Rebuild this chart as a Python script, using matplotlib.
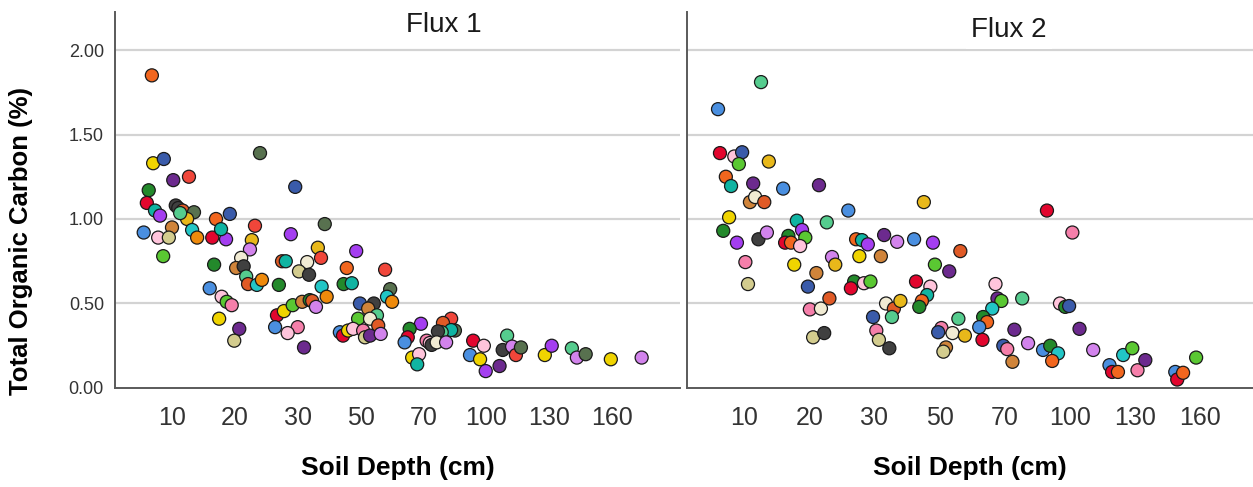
import numpy as np
import matplotlib
matplotlib.use("Agg")
import matplotlib.pyplot as plt

plt.rcParams['font.family'] = ['Liberation Sans', 'DejaVu Sans']

# palette used for the individual sample points
palette = {
    'lblue': '#4A8FE0', 'dkblue': '#3A5BAA', 'crimson': '#E2062E',
    'orange': '#F2661E', 'amber': '#EE8A0C', 'yellow': '#F0D400',
    'gold': '#E8B81A', 'dkgreen': '#23892B', 'lgreen': '#5AC832',
    'teal': '#10B4A2', 'turq': '#22C6C6', 'purple': '#A43EF0',
    'dkpurple': '#6C2A8E', 'pink': '#F57FAA', 'lpink': '#FFC4DB',
    'khaki': '#D3CC8E', 'cream': '#F1EBD3', 'tan': '#D0843A',
    'dkgray': '#404040', 'olive': '#58714F', 'mint': '#55CC8E',
    'orchid': '#D283EC', 'tomato': '#F0463A', 'rust': '#E05A26',
}

# ---- Flux 1 ----
depth1 = [6.8, 7.0, 8.7, 10.2, 12.7, 6.3, 6.0, 7.3, 8.1, 10.6, 11.0, 11.7,
          13.5, 12.4, 11.3, 19.2, 17.0, 10.0, 5.5, 7.8, 9.5, 13.2, 14.0, 16.4,
          18.6, 17.8, 23.2, 24.0, 29.6, 28.9, 38.6, 8.6, 22.7, 22.4, 16.7,
          21.0, 20.2, 21.4, 21.8, 22.1, 23.5, 24.3, 16.0, 17.9, 18.7, 19.5,
          17.5, 20.7, 19.9, 27.0, 27.5, 28.1, 36.4, 37.4, 33.0, 30.4, 33.6,
          37.6, 39.2, 48.6, 45.6, 57.8, 44.6, 47.2, 59.4, 58.4, 60.0, 26.7,
          27.8, 29.2, 31.4, 33.8, 34.6, 35.8, 26.4, 30.0, 28.4, 32.0, 49.8,
          54.2, 52.4, 55.2, 49.2, 53.0, 55.6, 43.4, 44.4, 46.0, 47.6, 50.8,
          51.4, 53.0, 56.4, 69.2, 65.6, 65.0, 64.0, 66.4, 68.6, 68.0, 83.2,
          79.3, 85.0, 83.2, 78.7, 76.9, 71.5, 73.0, 73.9, 76.3, 80.8, 93.7,
          98.8, 92.2, 97.0, 99.7, 106.3, 109.9, 107.8, 112.3, 114.1, 116.5,
          127.9, 131.2, 140.8, 143.2, 147.4, 159.4, 174.1]
toc1 = [1.85, 1.33, 1.355, 1.23, 1.25, 1.17, 1.095, 1.05, 1.02, 1.08, 1.065,
        1.05, 1.04, 1.00, 1.035, 1.03, 1.00, 0.95, 0.92, 0.89, 0.89, 0.935,
        0.89, 0.89, 0.88, 0.94, 0.96, 1.39, 1.19, 0.91, 0.97, 0.78, 0.875,
        0.82, 0.73, 0.77, 0.71, 0.72, 0.66, 0.615, 0.61, 0.64, 0.59, 0.54,
        0.51, 0.49, 0.41, 0.35, 0.28, 0.61, 0.75, 0.75, 0.83, 0.77, 0.745,
        0.69, 0.67, 0.60, 0.54, 0.81, 0.71, 0.70, 0.615, 0.62, 0.585, 0.54,
        0.51, 0.43, 0.455, 0.49, 0.51, 0.52, 0.515, 0.48, 0.36, 0.36, 0.325,
        0.24, 0.50, 0.50, 0.47, 0.43, 0.41, 0.41, 0.37, 0.33, 0.31, 0.34,
        0.35, 0.34, 0.30, 0.31, 0.32, 0.38, 0.35, 0.30, 0.27, 0.18, 0.20,
        0.14, 0.41, 0.385, 0.34, 0.343, 0.33, 0.335, 0.28, 0.266, 0.255,
        0.27, 0.27, 0.28, 0.25, 0.195, 0.17, 0.10, 0.13, 0.31, 0.225, 0.245,
        0.195, 0.24, 0.195, 0.25, 0.235, 0.18, 0.20, 0.17, 0.18]
col1 = ['orange', 'yellow', 'dkblue', 'dkpurple', 'tomato', 'dkgreen',
        'crimson', 'teal', 'purple', 'dkgray', 'dkgray', 'rust', 'olive',
        'gold', 'mint', 'dkblue', 'orange', 'tan', 'lblue', 'lpink', 'khaki',
        'turq', 'amber', 'crimson', 'purple', 'teal', 'tomato', 'olive',
        'dkblue', 'purple', 'olive', 'lgreen', 'gold', 'orchid', 'dkgreen',
        'cream', 'tan', 'dkgray', 'mint', 'rust', 'turq', 'amber', 'lblue',
        'lpink', 'lgreen', 'pink', 'yellow', 'dkpurple', 'khaki', 'dkgreen',
        'rust', 'teal', 'gold', 'tomato', 'cream', 'khaki', 'dkgray', 'turq',
        'amber', 'purple', 'orange', 'tomato', 'dkgreen', 'teal', 'olive',
        'turq', 'amber', 'crimson', 'yellow', 'lgreen', 'tan', 'dkgreen',
        'rust', 'orchid', 'lblue', 'pink', 'lpink', 'dkpurple', 'dkblue',
        'dkgray', 'tan', 'mint', 'lgreen', 'cream', 'rust', 'lblue',
        'crimson', 'yellow', 'lpink', 'pink', 'khaki', 'dkpurple', 'orchid',
        'purple', 'dkgreen', 'crimson', 'lblue', 'yellow', 'lpink', 'teal',
        'tomato', 'rust', 'olive', 'teal', 'mint', 'dkgray', 'pink', 'lpink',
        'dkgray', 'cream', 'orchid', 'crimson', 'lpink', 'lblue', 'yellow',
        'purple', 'dkpurple', 'mint', 'dkgray', 'orchid', 'tomato', 'olive',
        'yellow', 'purple', 'mint', 'orchid', 'olive', 'yellow', 'orchid']

# ---- Flux 2 ----
depth2 = [12.6, 6.0, 6.3, 8.5, 9.7, 9.2, 13.8, 7.2, 8.0, 11.4, 16.0, 21.5,
          10.9, 11.7, 13.1, 26.0, 45.2, 7.7, 6.8, 8.9, 12.2, 13.5, 18.1, 18.9,
          19.4, 16.8, 16.3, 17.2, 18.6, 22.7, 10.2, 10.6, 17.7, 23.5, 24.0,
          21.1, 19.8, 23.1, 20.1, 21.8, 20.6, 22.3, 27.2, 28.1, 29.0, 33.0,
          37.0, 42.2, 48.0, 56.4, 27.7, 32.0, 48.6, 53.0, 26.9, 26.4, 28.4,
          29.4, 42.8, 47.2, 46.2, 44.6, 43.8, 33.6, 36.0, 38.0, 35.4, 29.8,
          30.6, 31.4, 34.6, 55.8, 50.6, 49.6, 54.0, 57.8, 52.0, 51.2, 89.5,
          101.2, 67.2, 67.8, 69.0, 78.1, 66.2, 63.4, 64.6, 62.2, 63.2, 74.5,
          69.6, 71.2, 80.8, 73.6, 95.5, 97.9, 99.7, 104.5, 87.7, 91.0, 94.6,
          91.9, 110.8, 118.3, 119.5, 122.2, 124.6, 128.8, 131.2, 134.8, 148.6,
          149.5, 152.2, 158.2]
toc2 = [1.81, 1.65, 1.39, 1.37, 1.395, 1.325, 1.34, 1.25, 1.195, 1.21, 1.18,
        1.20, 1.10, 1.13, 1.10, 1.05, 1.10, 1.01, 0.93, 0.86, 0.88, 0.92,
        0.99, 0.935, 0.89, 0.90, 0.86, 0.86, 0.84, 0.98, 0.745, 0.615, 0.73,
        0.775, 0.73, 0.68, 0.60, 0.53, 0.465, 0.47, 0.30, 0.325, 0.88, 0.875,
        0.85, 0.905, 0.865, 0.88, 0.86, 0.81, 0.78, 0.78, 0.73, 0.69, 0.63,
        0.59, 0.62, 0.63, 0.63, 0.60, 0.55, 0.515, 0.48, 0.50, 0.47, 0.515,
        0.42, 0.42, 0.34, 0.285, 0.235, 0.41, 0.355, 0.33, 0.325, 0.31, 0.24,
        0.215, 1.05, 0.92, 0.615, 0.53, 0.515, 0.53, 0.47, 0.42, 0.39, 0.36,
        0.285, 0.345, 0.25, 0.23, 0.265, 0.155, 0.50, 0.48, 0.485, 0.35,
        0.225, 0.25, 0.205, 0.16, 0.225, 0.135, 0.095, 0.095, 0.195, 0.235,
        0.105, 0.165, 0.095, 0.05, 0.09, 0.18]
col2 = ['mint', 'lblue', 'crimson', 'lpink', 'dkblue', 'lgreen', 'gold',
        'orange', 'teal', 'dkpurple', 'lblue', 'dkpurple', 'tan', 'cream',
        'rust', 'lblue', 'gold', 'yellow', 'dkgreen', 'purple', 'dkgray',
        'orchid', 'teal', 'purple', 'lgreen', 'dkgreen', 'crimson', 'orange',
        'lpink', 'mint', 'pink', 'khaki', 'yellow', 'orchid', 'gold', 'tan',
        'dkblue', 'rust', 'pink', 'cream', 'khaki', 'dkgray', 'orange',
        'teal', 'purple', 'dkpurple', 'orchid', 'lblue', 'purple', 'rust',
        'yellow', 'tan', 'lgreen', 'dkpurple', 'dkgreen', 'crimson', 'lpink',
        'lgreen', 'crimson', 'lpink', 'teal', 'orange', 'dkgreen', 'cream',
        'rust', 'gold', 'mint', 'dkblue', 'pink', 'khaki', 'dkgray', 'mint',
        'pink', 'dkblue', 'cream', 'gold', 'tan', 'khaki', 'crimson', 'pink',
        'lpink', 'dkpurple', 'lgreen', 'mint', 'turq', 'dkgreen', 'orange',
        'lblue', 'crimson', 'dkpurple', 'dkblue', 'pink', 'orchid', 'tan',
        'lpink', 'dkgreen', 'dkblue', 'dkpurple', 'lblue', 'dkgreen', 'turq',
        'orange', 'orchid', 'lblue', 'crimson', 'orange', 'turq', 'lgreen',
        'pink', 'dkpurple', 'lblue', 'crimson', 'orange', 'lgreen']

panels = [('Flux 1', depth1, toc1, col1), ('Flux 2', depth2, toc2, col2)]

# depth axis: equally spaced ticks for uneven depth steps
tick_depths = [10, 20, 30, 50, 70, 100, 130, 160]
knots_d = np.array([0, 10, 20, 30, 50, 70, 100, 130, 160, 190, 220], float)
knots_p = np.arange(len(knots_d), dtype=float)


def fwd(d):
    return np.interp(d, knots_d, knots_p)


def inv(p):
    return np.interp(p, knots_p, knots_d)


fig = plt.figure(figsize=(12.53, 4.87), dpi=100)
ax_pos = [[0.0918, 0.2033, 0.4509, 0.7721], [0.5483, 0.2033, 0.4517, 0.7721]]
xlims = [(0.94, 192.4), (1.24, 184.4)]
title_x = [0.582, 0.569]
title_y = [0.966, 0.952]

for i, (name, d, t, c) in enumerate(panels):
    ax = fig.add_axes(ax_pos[i])
    ax.set_xscale('function', functions=(fwd, inv))
    ax.set_xlim(*xlims[i])
    ax.set_ylim(0, 2.225)
    for g in [0.5, 1.0, 1.5, 2.0]:
        ax.axhline(g, color='#d3d3d3', lw=1.6, zorder=0)
    ax.scatter(d, t, s=88, c=[palette[k] for k in c], edgecolors='#1a1a1a',
               linewidths=0.9, zorder=3)
    ax.set_xticks(tick_depths)
    ax.set_xticklabels([str(v) for v in tick_depths])
    ax.xaxis.set_minor_locator(matplotlib.ticker.NullLocator())
    ax.tick_params(axis='x', length=0, pad=13, labelsize=18, labelcolor='#333333')
    if i == 0:
        ax.set_yticks([0, 0.5, 1.0, 1.5, 2.0])
        ax.set_yticklabels(['0.00', '0.50', '1.00', '1.50', '2.00'])
        ax.tick_params(axis='y', length=0, pad=8, labelsize=13, labelcolor='#333333')
        ax.set_ylabel('Total Organic Carbon (%)', fontsize=18.5, fontweight='bold')
        ax.yaxis.set_label_coords(-0.145, 0.39)
    else:
        ax.set_yticks([])
    for s in ['top', 'right']:
        ax.spines[s].set_visible(False)
    for s in ['left', 'bottom']:
        ax.spines[s].set_color('#5a5a5a')
        ax.spines[s].set_linewidth(1.4)
    ax.set_xlabel('Soil Depth (cm)', fontsize=19, fontweight='bold')
    ax.xaxis.set_label_coords(0.5, -0.18)
    tt = ax.text(title_x[i], title_y[i], name, transform=ax.transAxes,
                 ha='center', va='center', fontsize=20, color='#1a1a1a', zorder=4)
    if i == 1:
        tt.set_bbox(dict(facecolor='white', edgecolor='none', pad=4))

fig.savefig('out.png', dpi=100)
